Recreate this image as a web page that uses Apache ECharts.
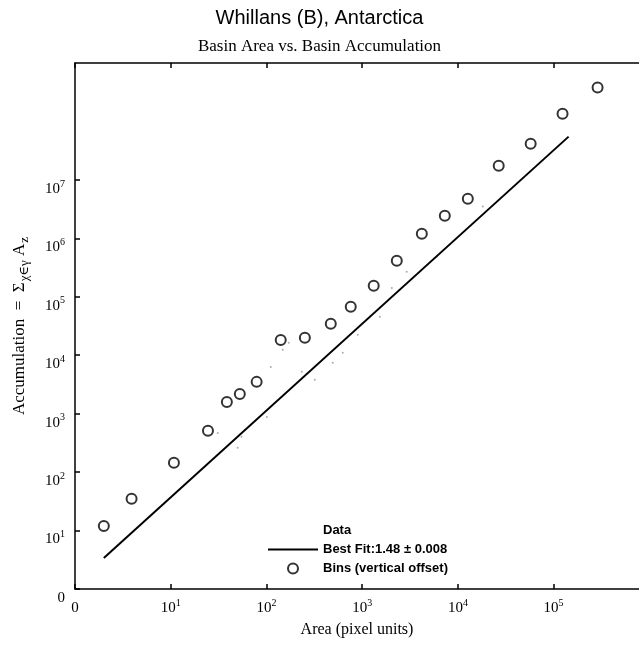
<!DOCTYPE html>
<html>
<head>
<meta charset="utf-8">
<title>Whillans (B), Antarctica</title>
<script src="https://cdn.jsdelivr.net/npm/echarts@6/dist/echarts.min.js"></script>
<style>
  html, body { margin: 0; padding: 0; background: #fff; }
  #chart { width: 639px; height: 647px; }
</style>
</head>
<body>
<div id="chart"></div>
<script>
// binned points (drawn with a vertical offset)
var binArea = [2, 3.9, 10.8, 24.5, 38.6, 52.7, 79, 141, 252, 470, 760, 1320, 2300, 4200, 7300, 12700, 26700, 57600, 124000, 288000];
var binAccum = [12, 35, 144, 508, 1590, 2180, 3500, 18300, 19900, 34500, 67400, 154000, 413000, 1.2e6, 2.44e6, 4.76e6, 1.75e7, 4.17e7, 1.36e8, 3.8e8];

// faint raw data specks
var dataArea = [31, 50, 55, 101, 111, 148, 171, 234, 320, 493, 627, 900, 1530, 2040, 2920, 6010, 18200];
var dataAccum = [469, 260, 401, 881, 6310, 12400, 16300, 5200, 3790, 7410, 11000, 22300, 45400, 142000, 268000, 484000, 3.5e6];

// best fit line end points
var fitArea = [2, 143500];
var fitAccum = [3.4, 5.5e7];

var xTicks = [1, 10, 100, 1000, 10000, 100000];
var yTicks = [1, 10, 100, 1000, 10000, 100000, 1000000, 10000000];

function zip(a, b) {
  return a.map(function (v, i) { return [v, b[i]]; });
}

function powLabel(v) {
  if (v <= 1) return '{n|0}';
  var e = Math.round(Math.log10(v));
  return '{n|10}{sup|' + e + '}';
}

var serif = '"Liberation Serif", "DejaVu Serif", serif';
var sans = '"Liberation Sans", Arial, sans-serif';

var labelRich = {
  n: { fontFamily: serif, fontSize: 15, lineHeight: 18, color: '#000' },
  sup: { fontFamily: serif, fontSize: 10, lineHeight: 10, padding: [0, 0, 9, 0], verticalAlign: 'bottom', color: '#000' }
};

// the plot is cut at the right edge of the picture
var xMax = 7.8e5;

var chartDom = document.getElementById('chart');
var myChart = echarts.init(chartDom);
var option;

option = {
  animation: false,
  backgroundColor: '#fff',
  title: [
    {
      text: 'Whillans (B), Antarctica',
      left: 'center',
      top: 8,
      padding: [0, 0, 0, 85],
      textStyle: { fontFamily: sans, fontSize: 20, fontWeight: 'normal', color: '#000' }
    },
    {
      text: 'Basin Area vs. Basin Accumulation',
      left: 'center',
      top: 38,
      padding: [0, 0, 0, 85],
      textStyle: { fontFamily: serif, fontSize: 17, fontWeight: 'normal', color: '#000' }
    }
  ],
  grid: { left: 75, top: 63, right: 0, bottom: 58, containLabel: false, outerBoundsMode: 'none' },
  legend: {
    orient: 'vertical',
    left: 262,
    top: 519,
    itemWidth: 50,
    itemHeight: 10,
    itemGap: 6,
    textStyle: { fontFamily: sans, fontSize: 13, fontWeight: 'bold', color: '#000' },
    data: [
      { name: 'Data', icon: 'rect', itemStyle: { color: 'rgba(0,0,0,0)', borderWidth: 0 } },
      { name: 'Best Fit:1.48 ± 0.008', itemStyle: { opacity: 0 } },
      { name: 'Bins (vertical offset)', icon: 'circle' }
    ]
  },
  xAxis: [
    {
      type: 'log',
      logBase: 10,
      min: 1,
      max: xMax,
      name: 'Area (pixel units)',
      nameLocation: 'middle',
      nameGap: 31,
      nameTextStyle: { fontFamily: serif, fontSize: 16, color: '#000' },
      axisLine: { onZero: false, lineStyle: { color: '#000', width: 1.5 } },
      axisTick: { inside: true, length: 5, customValues: xTicks, lineStyle: { color: '#000', width: 1.5 } },
      axisLabel: { customValues: xTicks, margin: 10, formatter: powLabel, rich: labelRich },
      splitLine: { show: false },
      minorTick: { show: false }
    },
    {
      type: 'log',
      logBase: 10,
      min: 1,
      max: xMax,
      position: 'top',
      axisLine: { onZero: false, lineStyle: { color: '#000', width: 1.5 } },
      axisTick: { inside: true, length: 5, customValues: xTicks, lineStyle: { color: '#000', width: 1.5 } },
      axisLabel: { show: false },
      splitLine: { show: false }
    }
  ],
  yAxis: {
    type: 'log',
    logBase: 10,
    min: 1,
    max: 1e9,
    name: 'Accumulation  =  Σ{sub|χ∈γ} A{sub|z}',
    nameLocation: 'middle',
    nameGap: 44,
    nameTextStyle: {
      fontFamily: serif, fontSize: 17, color: '#000',
      rich: {
        sub: { fontFamily: serif, fontSize: 13, verticalAlign: 'top', padding: [9, 0, 0, 1], color: '#000' }
      }
    },
    axisLine: { onZero: false, lineStyle: { color: '#000', width: 1.5 } },
    axisTick: { inside: true, length: 5, customValues: yTicks, lineStyle: { color: '#000', width: 1.5 } },
    axisLabel: { customValues: yTicks, margin: 10, padding: [18, 0, 0, 0], formatter: powLabel, rich: labelRich },
    splitLine: { show: false }
  },
  series: [
    {
      name: 'Data',
      type: 'scatter',
      symbol: 'circle',
      symbolSize: 2,
      itemStyle: { color: '#999' },
      data: zip(dataArea, dataAccum)
    },
    {
      name: 'Best Fit:1.48 ± 0.008',
      type: 'line',
      showSymbol: false,
      symbol: 'none',
      lineStyle: { color: '#000', width: 2 },
      itemStyle: { color: '#000' },
      data: zip(fitArea, fitAccum)
    },
    {
      name: 'Bins (vertical offset)',
      type: 'scatter',
      symbol: 'circle',
      symbolSize: 10,
      itemStyle: { color: '#fff', borderColor: '#000', borderWidth: 2 },
      data: zip(binArea, binAccum)
    }
  ]
};

option && myChart.setOption(option);
</script>
</body>
</html>
